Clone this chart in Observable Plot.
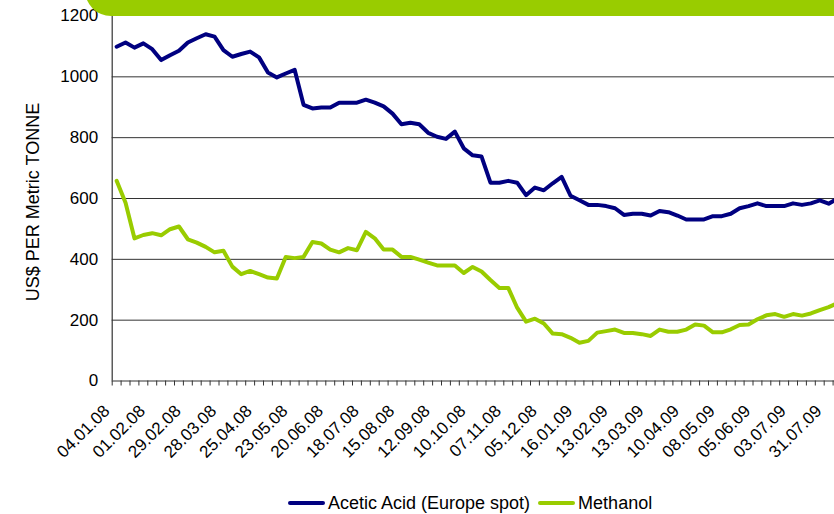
<!DOCTYPE html>
<html><head><meta charset="utf-8">
<script src="https://cdn.jsdelivr.net/npm/d3@7"></script>
<script src="https://cdn.jsdelivr.net/npm/@observablehq/plot@0.6"></script>
<style>
html,body{margin:0;padding:0;background:#fff;overflow:hidden;width:834px;height:514px;}
#wrap{position:relative;width:834px;height:514px;font-family:"Liberation Sans",Arial,sans-serif;color:#000;}
#chart{position:absolute;left:0;top:0;}
#banner{position:absolute;left:85px;top:-12px;width:760px;height:28px;background:#99cc00;border-radius:0 0 8px 26px;z-index:2;}
#ytitle{position:absolute;left:33px;top:202px;transform:translate(-50%,-50%) rotate(-90deg);white-space:nowrap;font-size:18px;}
#legend{position:absolute;top:492px;left:288px;height:22px;display:flex;align-items:center;font-size:18px;white-space:nowrap;}
.sw{display:inline-block;width:37px;height:4px;border-radius:2px;margin-right:3px;}
</style></head>
<body><div id="wrap">
<div id="chart"></div>
<div id="banner"></div>
<div id="ytitle">US$ PER Metric TONNE</div>
<div id="legend"><span class="sw" style="background:#000080"></span><span>Acetic Acid (Europe spot)</span><span class="sw" style="background:#99cc00;margin-left:8px"></span><span>Methanol</span></div>
</div>
<script>
const dates = ["04.01.08","11.01.08","18.01.08","25.01.08","01.02.08","08.02.08","15.02.08","22.02.08","29.02.08","07.03.08","14.03.08","21.03.08","28.03.08","04.04.08","11.04.08","18.04.08","25.04.08","02.05.08","09.05.08","16.05.08","23.05.08","30.05.08","06.06.08","13.06.08","20.06.08","27.06.08","04.07.08","11.07.08","18.07.08","25.07.08","01.08.08","08.08.08","15.08.08","22.08.08","29.08.08","05.09.08","12.09.08","19.09.08","26.09.08","03.10.08","10.10.08","17.10.08","24.10.08","31.10.08","07.11.08","14.11.08","21.11.08","28.11.08","05.12.08","12.12.08","19.12.08","09.01.09","16.01.09","23.01.09","30.01.09","06.02.09","13.02.09","20.02.09","27.02.09","06.03.09","13.03.09","20.03.09","27.03.09","03.04.09","10.04.09","17.04.09","24.04.09","01.05.09","08.05.09","15.05.09","22.05.09","29.05.09","05.06.09","12.06.09","19.06.09","26.06.09","03.07.09","10.07.09","17.07.09","24.07.09","31.07.09","07.08.09"];
const aceticAcid = [1099,1113,1096,1110,1091,1055,1071,1086,1113,1127,1140,1132,1088,1066,1075,1083,1064,1014,998,1011,1023,908,896,899,899,915,915,
  915,925,915,903,879,844,849,844,816,803,796,820,765,742,738,652,652,658,652,611,636,627,650,671,609,594,
  579,579,575,568,546,550,550,544,559,555,544,531,531,531,542,542,550,568,575,584,575,575,575,584,579,584,594,583,600];
const methanol = [658,586,469,480,486,479,499,508,466,455,441,423,428,376,351,362,351,340,337,408,404,408,457,452,432,423,437,
  430,490,469,432,432,408,408,399,389,380,380,380,355,375,360,332,306,306,241,195,205,189,156,154,142,126,
  132,159,164,169,158,158,154,148,169,162,162,169,186,182,160,160,170,184,186,203,216,220,211,220,215,222,233,243,256];
const xTickLabels = ["04.01.08","01.02.08","29.02.08","28.03.08","25.04.08","23.05.08","20.06.08","18.07.08","15.08.08","12.09.08","10.10.08","07.11.08","05.12.08","16.01.09","13.02.09","13.03.09","10.04.09","08.05.09","05.06.09","03.07.09","31.07.09"];
const yTicks = [0,200,400,600,800,1000,1200];

const xRange = [111.7, 841.5];
const bw = (xRange[1] - xRange[0]) / dates.length;
const axisColor = "#333";

const chart = Plot.plot({
  width: 834, height: 485,
  marginTop: 15.5, marginBottom: 104.5, marginLeft: 111.7, marginRight: 0,
  x: {type: "band", domain: dates, range: xRange, padding: 0, axis: null},
  y: {domain: [0, 1200], axis: null},
  style: {fontFamily: '"Liberation Sans", Arial, sans-serif', fontSize: "17px", color: "#000", overflow: "visible"},
  marks: [
    Plot.gridY(yTicks.filter(v => v > 0 && v < 1200), {stroke: axisColor, strokeOpacity: 1, strokeWidth: 1}),
    Plot.ruleY(yTicks, {x1: dates[0], x2: dates[0], insetLeft: -5, insetRight: bw, stroke: axisColor}),
    Plot.text(yTicks, {y: d => d, text: d => String(d), frameAnchor: "left", textAnchor: "end", dx: -14, fontSize: 17, fill: "#000"}),
    Plot.ruleX([dates[0]], {dx: -bw / 2, stroke: axisColor, strokeWidth: 1.2}),
    Plot.ruleY([0], {stroke: axisColor, strokeWidth: 1.2}),
    Plot.ruleX(dates, {y1: 0, y2: 0, insetBottom: -5, dx: -bw / 2, stroke: axisColor}),
    Plot.text(xTickLabels, {x: d => d, frameAnchor: "bottom", rotate: -45, textAnchor: "end", dx: -6, dy: 31, fontSize: 17, fill: "#000"}),
    Plot.line(methanol, {x: dates, y: methanol, stroke: "#99cc00", strokeWidth: 4, strokeLinejoin: "round", strokeLinecap: "round"}),
    Plot.line(aceticAcid, {x: dates, y: aceticAcid, stroke: "#000080", strokeWidth: 4, strokeLinejoin: "round", strokeLinecap: "round"})
  ]
});
document.getElementById("chart").appendChild(chart);
</script>
</body></html>
